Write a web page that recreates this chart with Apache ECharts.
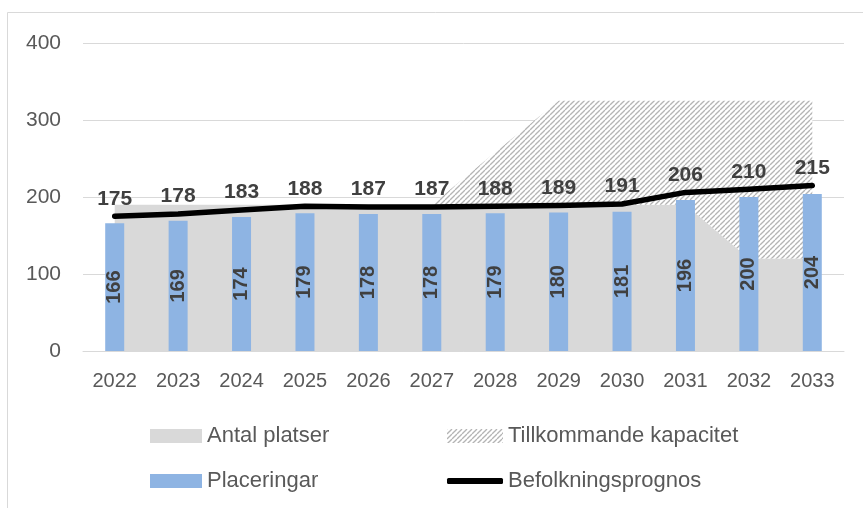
<!DOCTYPE html>
<html>
<head>
<meta charset="utf-8">
<script src="https://cdn.jsdelivr.net/npm/echarts@6/dist/echarts.min.js"></script>
<style>
  html, body { margin: 0; padding: 0; background: #fff; }
  #chart { width: 863px; height: 508px; }
</style>
</head>
<body>
<div id="chart"></div>
<script>
// values
const years = ['2022', '2023', '2024', '2025', '2026', '2027', '2028', '2029', '2030', '2031', '2032', '2033']
const antalPlatser = [190, 190, 190, 190, 190, 190, 190, 190, 190, 190, 120, 120]
const tillkommande = [0, 0, 0, 0, 0, 0, 68, 135, 135, 135, 205, 205]
const placeringar = [166, 169, 174, 179, 178, 178, 179, 180, 181, 196, 200, 204]
const befolkning = [175, 178, 183, 188, 187, 187, 188, 189, 191, 206, 210, 215]
const yTicks = [0, 100, 200, 300, 400]

const FONT = 'Liberation Sans'

// hatch pattern for "Tillkommande kapacitet"
function makeHatch () {
  let c = document.createElement('canvas')
  c.width = 5
  c.height = 5
  let ctx = c.getContext('2d')
  ctx.fillStyle = '#ffffff'
  ctx.fillRect(0, 0, 5, 5)
  ctx.strokeStyle = '#b4b4b4'
  ctx.lineWidth = 1.3
  ;[-5, 0, 5].forEach(x => {
    ctx.beginPath()
    ctx.moveTo(x, 5)
    ctx.lineTo(x + 5, 0)
    ctx.stroke()
  })
  return c
}
const hatch = { image: makeHatch(), repeat: 'repeat' }

const legendText = { fontFamily: FONT, fontSize: 22, color: '#595959' }
function legendAt (name, left, top, extra) {
  return Object.assign({
    data: [name],
    left: left,
    top: top,
    padding: 0,
    itemWidth: 52,
    itemHeight: 14,
    textStyle: legendText,
    selectedMode: false
  }, extra || {})
}

const chart = echarts.init(document.getElementById('chart'), null, { renderer: 'canvas' })
chart.setOption({
  backgroundColor: '#ffffff',
  animation: false,
  graphic: [{
    type: 'rect',
    shape: { x: 7.5, y: 12.5, width: 900, height: 600 },
    style: { fill: null, stroke: '#d9d9d9', lineWidth: 1 },
    silent: true
  }],
  grid: { left: 83, right: 19, top: 43, bottom: 157 },
  legend: [
    legendAt('Antal platser', 150, 425, { data: [{ name: 'Antal platser', icon: 'rect', itemStyle: { color: '#d9d9d9' } }] }),
    legendAt('Tillkommande kapacitet', 447, 425, { itemWidth: 56, data: [{ name: 'Tillkommande kapacitet', icon: 'rect', itemStyle: { color: hatch } }] }),
    legendAt('Placeringar', 150, 470, { data: [{ name: 'Placeringar', icon: 'rect', itemStyle: { color: '#8eb4e3' } }] }),
    legendAt('Befolkningsprognos', 447, 470, { itemWidth: 56, itemHeight: 6, data: [{ name: 'Befolkningsprognos', icon: 'roundRect', itemStyle: { color: '#000' } }] })
  ],
  xAxis: {
    type: 'category',
    data: years,
    boundaryGap: true,
    axisLine: { lineStyle: { color: '#d9d9d9', width: 1 } },
    axisTick: { show: false },
    axisLabel: { fontFamily: FONT, fontSize: 20, color: '#595959', margin: 20 }
  },
  yAxis: {
    type: 'value',
    min: yTicks[0],
    max: yTicks[yTicks.length - 1],
    interval: 100,
    axisLine: { show: false },
    axisTick: { show: false },
    splitLine: { lineStyle: { color: '#d9d9d9', width: 1 } },
    axisLabel: { fontFamily: FONT, fontSize: 21, color: '#595959', margin: 22 }
  },
  series: [
    {
      name: 'Antal platser',
      type: 'line',
      stack: 'kapacitet',
      data: antalPlatser,
      symbol: 'none',
      lineStyle: { width: 0, opacity: 0 },
      itemStyle: { color: '#d9d9d9' },
      areaStyle: { color: '#d9d9d9', opacity: 1 },
      z: 1
    },
    {
      name: 'Tillkommande kapacitet',
      type: 'line',
      stack: 'kapacitet',
      data: tillkommande,
      symbol: 'none',
      lineStyle: { width: 0, opacity: 0 },
      itemStyle: { color: '#a6a6a6' },
      areaStyle: { color: hatch, opacity: 1 },
      z: 1
    },
    {
      name: 'Placeringar',
      type: 'bar',
      data: placeringar,
      barWidth: 19,
      itemStyle: { color: '#8eb4e3' },
      label: {
        show: true,
        position: 'inside',
        rotate: 90,
        fontFamily: FONT,
        fontSize: 20,
        fontWeight: 'bold',
        color: '#404040'
      },
      z: 3
    },
    {
      name: 'Befolkningsprognos',
      type: 'line',
      data: befolkning,
      symbol: 'circle',
      symbolSize: 0,
      showSymbol: true,
      lineStyle: { color: '#000', width: 5.5, cap: 'round', join: 'round' },
      itemStyle: { color: '#000' },
      label: {
        show: true,
        position: 'top',
        distance: 7,
        fontFamily: FONT,
        fontSize: 21,
        fontWeight: 'bold',
        color: '#404040'
      },
      z: 4
    }
  ]
})
</script>
</body>
</html>
